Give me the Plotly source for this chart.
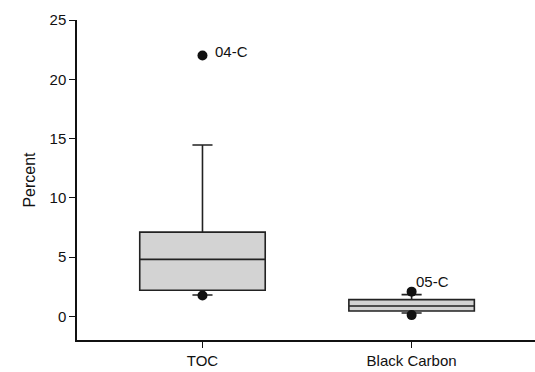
import plotly.graph_objects as go

categories = ["TOC", "Black Carbon"]
q1 = [2.2, 0.45]
median = [4.8, 0.87]
q3 = [7.1, 1.41]
lower_whisker = [1.8, 0.28]
upper_whisker = [14.45, 1.83]
outlier_x = ["TOC", "TOC", "Black Carbon", "Black Carbon"]
outlier_y = [22.0, 1.75, 2.08, 0.1]
label_x = ["TOC", "Black Carbon"]
label_y = [22.0, 2.08]
label_text = ["04-C", "05-C"]
y_ticks = [0, 5, 10, 15, 20, 25]

fig = go.Figure()
fig.add_trace(go.Box(
    x=categories, q1=q1, median=median, q3=q3,
    lowerfence=lower_whisker, upperfence=upper_whisker,
    width=0.6, whiskerwidth=0.16,
    fillcolor="#d3d3d3", line=dict(color="#222222", width=1.6),
    boxpoints=False, showlegend=False, hoverinfo="skip",
))
fig.add_trace(go.Scatter(
    x=outlier_x, y=outlier_y, mode="markers",
    marker=dict(color="#111111", size=10),
    showlegend=False, cliponaxis=False, hoverinfo="skip",
))

fig.add_annotation(x=label_x[0], y=label_y[0], text=label_text[0], showarrow=False,
                   xanchor="left", yanchor="middle", xshift=11, yshift=4,
                   font=dict(size=15, color="#111"))
fig.add_annotation(x=label_x[1], y=label_y[1], text=label_text[1], showarrow=False,
                   xanchor="left", yanchor="bottom", xshift=2, yshift=0,
                   font=dict(size=15, color="#111"))

fig.update_layout(
    width=535, height=372,
    margin=dict(l=77, r=0, t=20, b=32),
    paper_bgcolor="white", plot_bgcolor="white",
    font=dict(family="Liberation Sans, Arial", size=15, color="#111"),
)
fig.update_xaxes(
    type="category", range=[-0.6, 1.59],
    showline=True, linecolor="#111", linewidth=1.5,
    ticks="outside", ticklen=6, tickcolor="#111", tickwidth=1.2,
    showgrid=False, zeroline=False,
)
fig.update_yaxes(
    range=[-2, 25], tickvals=y_ticks,
    showline=True, linecolor="#111", linewidth=1.5,
    ticks="outside", ticklen=6, tickcolor="#111", tickwidth=1.2,
    showgrid=False, zeroline=False,
    title=dict(text="Percent", font=dict(size=16), standoff=10),
)

fig.write_html("out.html", config={"displayModeBar": False},
               post_script="document.body.style.margin='0';document.body.style.overflow='hidden';")
